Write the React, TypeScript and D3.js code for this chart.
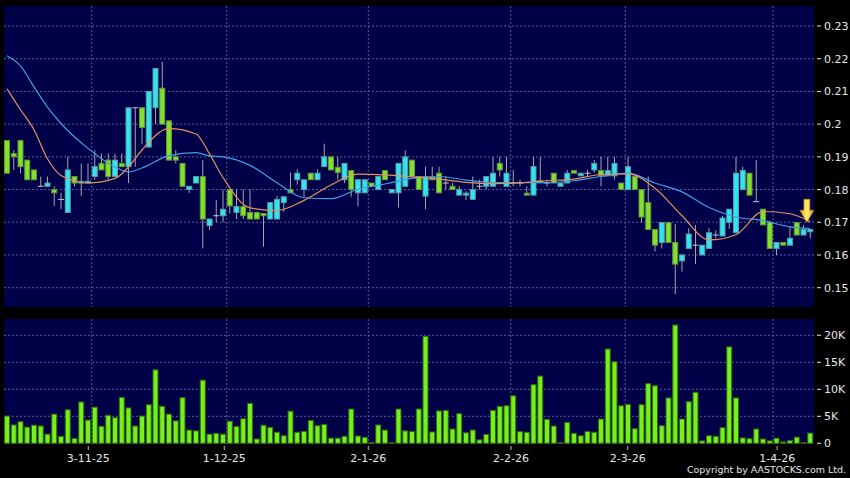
import React from "react";
import * as d3 from "d3";

// ---------- data ----------
const opens = [
  0.195, 0.191, 0.195, 0.189, 0.186, 0.181, 0.181, 0.18, 0.177, 0.173,
  0.184, 0.182, 0.182, 0.184, 0.188, 0.189, 0.184, 0.188, 0.187, 0.205,
  0.205, 0.193, 0.205, 0.211, 0.201, 0.19, 0.188, 0.18, 0.182, 0.184,
  0.169, 0.172, 0.172, 0.18, 0.173, 0.1748, 0.173, 0.173, 0.1727, 0.171,
  0.171, 0.176, 0.18, 0.183, 0.18, 0.185, 0.183, 0.187, 0.19, 0.1868,
  0.183, 0.1858, 0.179, 0.179, 0.182, 0.18, 0.1858, 0.179, 0.179, 0.181,
  0.189, 0.184, 0.178, 0.1838, 0.185, 0.182, 0.181, 0.1783, 0.1783, 0.177,
  0.181, 0.181, 0.181, 0.188, 0.181, 0.182, 0.182, 0.1789, 0.1783, 0.1827,
  0.182, 0.185, 0.181, 0.182, 0.1858, 0.1842, 0.185, 0.186, 0.1858, 0.1842,
  0.1842, 0.182, 0.18, 0.184, 0.18, 0.176, 0.1678, 0.1638, 0.1699, 0.1638,
  0.1582, 0.162, 0.163, 0.16, 0.162, 0.1661, 0.1658, 0.17, 0.1668, 0.18,
  0.185, 0.1763, 0.174, 0.17, 0.162, 0.1638, 0.163, 0.1699, 0.1661, 0.1671,
];
const highs = [
  0.195, 0.192, 0.195, 0.189, 0.186, 0.184, 0.184, 0.181, 0.179, 0.19,
  0.184, 0.188, 0.188, 0.192, 0.191, 0.191, 0.191, 0.191, 0.205, 0.205,
  0.205, 0.21, 0.217, 0.219, 0.201, 0.192, 0.188, 0.181, 0.184, 0.189,
  0.171, 0.1768, 0.18, 0.18, 0.18, 0.18, 0.18, 0.173, 0.1727, 0.176,
  0.178, 0.1778, 0.1852, 0.1862, 0.183, 0.185, 0.1862, 0.194, 0.19, 0.19,
  0.188, 0.1858, 0.183, 0.183, 0.182, 0.184, 0.1858, 0.18, 0.188, 0.192,
  0.189, 0.184, 0.187, 0.187, 0.187, 0.184, 0.182, 0.181, 0.1795, 0.184,
  0.183, 0.184, 0.19, 0.19, 0.19, 0.186, 0.183, 0.181, 0.19, 0.19,
  0.183, 0.185, 0.182, 0.186, 0.186, 0.185, 0.186, 0.189, 0.19, 0.19,
  0.19, 0.182, 0.19, 0.184, 0.18, 0.184, 0.1678, 0.1699, 0.17, 0.1695,
  0.16, 0.1682, 0.1692, 0.163, 0.1682, 0.1675, 0.172, 0.174, 0.19, 0.187,
  0.185, 0.189, 0.174, 0.1705, 0.1638, 0.1638, 0.1689, 0.1699, 0.1692, 0.1678,
];
const lows = [
  0.185, 0.186, 0.185, 0.183, 0.183, 0.181, 0.181, 0.175, 0.174, 0.173,
  0.181, 0.178, 0.182, 0.183, 0.186, 0.183, 0.184, 0.187, 0.182, 0.187,
  0.194, 0.193, 0.2, 0.2, 0.189, 0.188, 0.181, 0.179, 0.182, 0.162,
  0.1676, 0.17, 0.17, 0.1727, 0.171, 0.171, 0.171, 0.171, 0.1625, 0.171,
  0.171, 0.1732, 0.179, 0.1815, 0.1778, 0.183, 0.183, 0.187, 0.186, 0.183,
  0.182, 0.1778, 0.1748, 0.179, 0.181, 0.18, 0.183, 0.179, 0.1745, 0.181,
  0.184, 0.18, 0.174, 0.183, 0.179, 0.18, 0.18, 0.1783, 0.1768, 0.177,
  0.18, 0.18, 0.181, 0.184, 0.181, 0.181, 0.181, 0.1783, 0.1783, 0.182,
  0.181, 0.182, 0.181, 0.182, 0.185, 0.1842, 0.184, 0.1852, 0.181, 0.1842,
  0.183, 0.18, 0.18, 0.18, 0.17, 0.1678, 0.1611, 0.162, 0.1638, 0.148,
  0.1549, 0.162, 0.1572, 0.16, 0.162, 0.1651, 0.1658, 0.168, 0.1668, 0.18,
  0.1783, 0.1763, 0.1692, 0.162, 0.16, 0.163, 0.163, 0.1661, 0.1661, 0.1651,
];
const closes = [
  0.185, 0.19, 0.187, 0.183, 0.183, 0.181, 0.182, 0.179, 0.177, 0.186,
  0.182, 0.1825, 0.1825, 0.187, 0.186, 0.184, 0.189, 0.187, 0.205, 0.205,
  0.199, 0.21, 0.217, 0.2, 0.189, 0.189, 0.181, 0.181, 0.184, 0.171,
  0.171, 0.172, 0.174, 0.175, 0.1748, 0.172, 0.171, 0.171, 0.172, 0.176,
  0.177, 0.1778, 0.179, 0.185, 0.183, 0.183, 0.185, 0.19, 0.186, 0.1852,
  0.188, 0.18, 0.183, 0.183, 0.181, 0.184, 0.183, 0.18, 0.188, 0.19,
  0.184, 0.18, 0.184, 0.183, 0.179, 0.182, 0.18, 0.18, 0.1789, 0.18,
  0.181, 0.184, 0.185, 0.186, 0.185, 0.182, 0.182, 0.1783, 0.187, 0.1821,
  0.182, 0.182, 0.182, 0.185, 0.185, 0.185, 0.185, 0.188, 0.1842, 0.1858,
  0.188, 0.18, 0.187, 0.18, 0.1716, 0.1678, 0.163, 0.1699, 0.1638, 0.1572,
  0.16, 0.1664, 0.163, 0.163, 0.1668, 0.1661, 0.1713, 0.174, 0.185, 0.1858,
  0.1783, 0.1763, 0.1692, 0.162, 0.1638, 0.163, 0.1651, 0.1661, 0.1678, 0.1678,
];
const volumes = [
  5050, 3400, 4000, 3000, 3350, 3200, 1700, 5400, 1300, 6200,
  900, 7650, 4300, 6700, 3150, 5200, 4750, 8500, 6550, 3200,
  5050, 7150, 13600, 6850, 5400, 4150, 8450, 2450, 2300, 11700,
  1700, 1850, 1700, 4100, 3100, 4550, 7400, 800, 3350, 2950,
  2050, 1400, 5950, 2050, 2200, 4250, 3250, 3500, 950, 950,
  1300, 6350, 1350, 1100, 150, 3400, 2450, 100, 6350, 2300,
  2200, 6350, 19800, 2100, 6000, 6100, 2650, 5500, 1950, 2450,
  650, 1650, 6100, 6850, 6950, 8800, 2150, 2050, 10850, 12450,
  4450, 3200, 100, 3850, 1850, 1400, 2200, 2050, 4500, 17450,
  15100, 6950, 7200, 2700, 7150, 11050, 10650, 3250, 8400, 21900,
  4500, 7700, 9450, 450, 1400, 1300, 2900, 17850, 8400, 1000,
  850, 2650, 800, 450, 950, 250, 500, 1150, 100, 1900,
];

// moving averages at these bar indices
const maIdx = [0, 2, 4, 6, 8, 12, 16, 18, 20, 24, 28, 30, 32, 36, 40, 44, 48, 52, 56, 60, 64, 68, 72, 76, 80, 84, 88, 92, 96, 100, 104, 108, 112, 116, 119];
const maShort = [0.2108, 0.2044, 0.1983, 0.1894, 0.1843, 0.182, 0.1834, 0.1869, 0.1921, 0.1986, 0.197, 0.1909, 0.1837, 0.1744, 0.1736, 0.1767, 0.1814, 0.1847, 0.1845, 0.1839, 0.1832, 0.1822, 0.1818, 0.1821, 0.1827, 0.1832, 0.1846, 0.1848, 0.1804, 0.172, 0.1646, 0.1662, 0.1733, 0.1726, 0.1702];
const maLong = [0.2209, 0.2178, 0.2114, 0.2052, 0.2002, 0.1926, 0.1869, 0.1854, 0.1866, 0.1904, 0.1913, 0.1903, 0.19, 0.1874, 0.1821, 0.1775, 0.1772, 0.1801, 0.1817, 0.1834, 0.184, 0.1829, 0.1821, 0.1821, 0.1821, 0.1827, 0.184, 0.185, 0.182, 0.1793, 0.1745, 0.1716, 0.1705, 0.1686, 0.1681];

const priceTicks = [0.15, 0.16, 0.17, 0.18, 0.19, 0.2, 0.21, 0.22, 0.23];
const volTicks = [0, 5000, 10000, 15000, 20000];
const volTickLabels = ["0", "5K", "10K", "15K", "20K"];
const dateLabels = ["3-11-25", "1-12-25", "2-1-26", "2-2-26", "2-3-26", "1-4-26"];
const dateTickPos = [12.04, 32.19, 53.53, 74.67, 91.96, 114.1];
const dateGridPos = [12.55, 32.55, 53.53, 74.62, 91.6, 113.5];
const arrowPos = { idx: 118.5, price: 0.17 };

// ---------- styles ----------
const NAVY = "#000048";
const GRID = "#5a5a9c";
const CYAN = "#30e4f0";
const GREEN = "#80e22c";
const VOLG = "#76f01c";
const TEXT = "#e6e6e6";
const FONT = "DejaVu Sans, Verdana, sans-serif";

export default function App() {
  const L = 4, R = 814;
  const mainT = 6, mainB = 307;
  const volT = 319, volB = 444;

  const n = closes.length;
  const x = d3.scaleLinear().domain([0, n - 1]).range([7, 7 + 6.75 * (n - 1)]);
  const yP = d3.scaleLinear().domain([0.15, 0.23]).range([287.7, 26]);
  const yV = d3.scaleLinear().domain([0, 20000]).range([443.3, 335.3]);

  const line = (vals: number[]) =>
    d3
      .line<number>()
      .x((_, i) => x(maIdx[i]))
      .y((v) => yP(v))
      .curve(d3.curveMonotoneX)(vals) || "";

  const bw = 5;

  const ax = x(arrowPos.idx);
  const ay = yP(arrowPos.price);

  return (
    <svg
      width={850}
      height={478}
      style={{ position: "absolute", left: 0, top: 0, display: "block" }}
    >
      <defs>
        <linearGradient id="arrowGrad" x1="0" x2="1" y1="0" y2="0">
          <stop offset="0" stopColor="#e89a00" />
          <stop offset="0.5" stopColor="#fff07a" />
          <stop offset="1" stopColor="#e89a00" />
        </linearGradient>
        <clipPath id="mainClip">
          <rect x={L} y={mainT} width={R - L} height={mainB - mainT} />
        </clipPath>
      </defs>
      <rect x={0} y={0} width={850} height={478} fill="#000" />
      <rect x={L} y={mainT} width={R - L} height={mainB - mainT} fill={NAVY} />
      <rect x={L} y={volT} width={R - L} height={volB - volT} fill={NAVY} />

      {/* grid */}
      {priceTicks.map((p) => (
        <line key={"pg" + p} x1={L} x2={R} y1={yP(p)} y2={yP(p)} stroke={GRID} strokeDasharray="2,2" />
      ))}
      {volTicks.slice(1).map((v) => (
        <line key={"vg" + v} x1={L} x2={R} y1={yV(v)} y2={yV(v)} stroke={GRID} strokeDasharray="2,2" />
      ))}
      {dateGridPos.map((g, i) => (
        <g key={"dg" + i}>
          <line x1={x(g)} x2={x(g)} y1={mainT} y2={mainB} stroke={GRID} strokeDasharray="2,2" />
          <line x1={x(g)} x2={x(g)} y1={volT} y2={volB} stroke={GRID} strokeDasharray="2,2" />
        </g>
      ))}

      {/* candles */}
      <g clipPath="url(#mainClip)">
        {closes.map((c, i) => {
          const o = opens[i];
          const cx = x(i);
          const top = yP(Math.max(o, c));
          const bot = yP(Math.min(o, c));
          const doji = o === c;
          const fill = c > o ? CYAN : GREEN;
          return (
            <g key={"c" + i}>
              <line x1={cx} x2={cx} y1={yP(highs[i])} y2={yP(lows[i])} stroke="#a4a4b0" strokeWidth={1} />
              {doji ? (
                <line x1={cx - 3} x2={cx + 3} y1={top} y2={top} stroke="#c8c8d0" strokeWidth={1} />
              ) : (
                <rect
                  x={cx - bw / 2}
                  y={top}
                  width={bw}
                  height={Math.max(1, bot - top)}
                  fill={fill}
                  stroke={c > o ? "#5a9aa4" : "#62943a"}
                  strokeWidth={1}
                />
              )}
            </g>
          );
        })}
        <path d={line(maLong)} fill="none" stroke="#3c9ee6" strokeWidth={1.2} />
        <path d={line(maShort)} fill="none" stroke="#e4905c" strokeWidth={1.2} />
      </g>

      {/* arrow */}
      <path
        d={`M${ax - 3},${ay - 23} L${ax + 3},${ay - 23} L${ax + 3},${ay - 12} L${ax + 7},${ay - 12} L${ax},${ay} L${ax - 7},${ay - 12} L${ax - 3},${ay - 12} Z`}
        fill="url(#arrowGrad)"
        stroke="#c88400"
        strokeWidth={0.6}
      />

      {/* volume bars */}
      {volumes.map((v, i) => (
        <rect
          key={"v" + i}
          x={x(i) - bw / 2}
          y={yV(v)}
          width={bw}
          height={Math.max(0, yV(0) - yV(v))}
          fill={VOLG}
          stroke="#2f6a08"
          strokeWidth={1}
        />
      ))}

      {/* right axis */}
      {priceTicks.map((p) => (
        <g key={"pt" + p}>
          <line x1={817} x2={821} y1={yP(p)} y2={yP(p)} stroke={TEXT} />
          <text x={824} y={yP(p) + 4} fill={TEXT} fontSize={11} fontFamily={FONT}>
            {String(p)}
          </text>
        </g>
      ))}
      {volTicks.map((v, i) => (
        <g key={"vt" + v}>
          <line x1={817} x2={821} y1={yV(v)} y2={yV(v)} stroke={TEXT} />
          <text x={824} y={yV(v) + 4} fill={TEXT} fontSize={11} fontFamily={FONT}>
            {volTickLabels[i]}
          </text>
        </g>
      ))}

      {/* bottom axis */}
      {dateTickPos.map((t, i) => (
        <g key={"dt" + i}>
          <line x1={x(t)} x2={x(t)} y1={446} y2={450} stroke="#bbbbbb" />
          <text x={x(t)} y={462} fill={TEXT} fontSize={11} fontFamily={FONT} textAnchor="middle">
            {dateLabels[i]}
          </text>
        </g>
      ))}

      <text
        x={846}
        y={473}
        fill={TEXT}
        fontSize={9.5}
        fontFamily={FONT}
        textAnchor="end"
        textLength={159}
        lengthAdjust="spacingAndGlyphs"
      >
        Copyright by AASTOCKS.com Ltd.
      </text>
    </svg>
  );
}
